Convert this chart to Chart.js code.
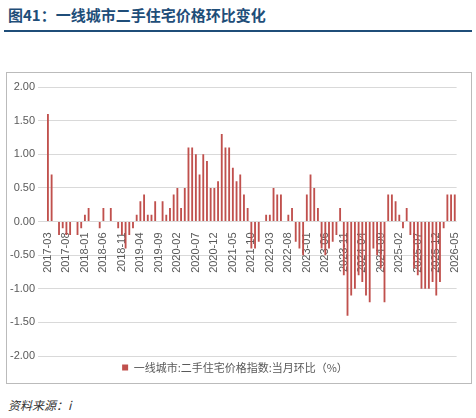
<!DOCTYPE html>
<html><head><meta charset="utf-8">
<script src="https://cdn.jsdelivr.net/npm/chart.js@4"></script>
<style>
body{margin:0;width:476px;height:418px;background:#fff;font-family:"Noto Sans CJK SC",sans-serif;position:relative}
#title{position:absolute;left:8px;top:4px;font-size:15px;font-weight:bold;color:#1f4e79}
#rule{position:absolute;left:4px;top:30px;width:468px;height:2px;background:#1f4e79}
#box{position:absolute;left:6px;top:72px;width:464px;height:310px;border:1px solid #bbb}
#src{position:absolute;left:8px;top:396px;font-size:12px;font-style:italic;color:#333}
</style></head><body>
<div id="title">图41：一线城市二手住宅价格环比变化</div>
<div id="rule"></div>
<div id="box"><canvas id="c" width="464" height="310"></canvas></div>
<div id="src">资料来源：i</div>
<script>
const startYear = 2017, startMonth = 3;
const values = [
  1.6,0.7,0,-0.2,-0.1,-0.2,-0.2,0,-0.2,-0.1,
  0.1,0.2,0,0,-0.1,0.2,0,0.2,0,-0.1,-0.2,-0.4,
  -0.2,-0.1,0.1,0.3,0.4,0.1,0.1,0.3,0,0.3,0.1,0.2,
  0.4,0.5,0.2,0.5,1.1,1.1,1.0,0.7,1.0,0.9,0.5,0.5,
  0.6,1.3,1.1,1.1,0.8,0.6,0.7,0.4,0.2,-0.4,-0.4,-0.3,
  0,0.1,0.1,0.5,0.4,0.4,0,0.1,0.2,-0.3,-0.4,-0.5,
  0.4,0.7,0.5,0.2,-0.4,-0.5,-0.4,-0.3,-0.2,0.2,-0.8,-1.4,
  -1.1,-1.0,-0.8,-0.9,-1.1,-1.2,-0.4,-0.5,-0.7,-1.2,0.4,0.4,
  0.3,0.1,-0.1,0.2,-0.2,-0.7,-0.8,-1.0,-1.0,-1.0,-0.9,-1.1,
  -0.9,-0.1,0.4,0.4,0.4
];
const labels = values.map((v, i) => {
  const m = startMonth - 1 + i;
  return (startYear + Math.floor(m / 12)) + '-' + String(m % 12 + 1).padStart(2, '0');
});
const seriesName = '一线城市:二手住宅价格指数:当月环比（%）';

new Chart(document.getElementById('c'), {
  type: 'bar',
  data: { labels: labels, datasets: [{ label: seriesName, data: values,
    backgroundColor: '#c0504d', barPercentage: 0.5, categoryPercentage: 1 }] },
  options: {
    responsive: false, animation: false,
    layout: { padding: { top: 14, right: 8, bottom: 0 } },
    plugins: {
      legend: { position: 'bottom', labels: { boxWidth: 6, boxHeight: 6, color: '#595959',
        padding: 6, font: { size: 11, family: 'Noto Sans CJK SC' } } }
    },
    scales: {
      x: { position: { y: 0 }, grid: { display: false }, border: { display: false },
        ticks: { autoSkip: false, maxRotation: 90, minRotation: 90, color: '#595959',
          font: { size: 11 },
          callback: (v, i) => i % 5 === 0 ? labels[i] : '' } },
      y: { min: -2, max: 2, border: { display: false },
        ticks: { stepSize: 0.5, color: '#595959', font: { size: 11 }, callback: v => v.toFixed(2) },
        grid: { color: '#d9d9d9' } }
    }
  }
});
</script></body></html>
